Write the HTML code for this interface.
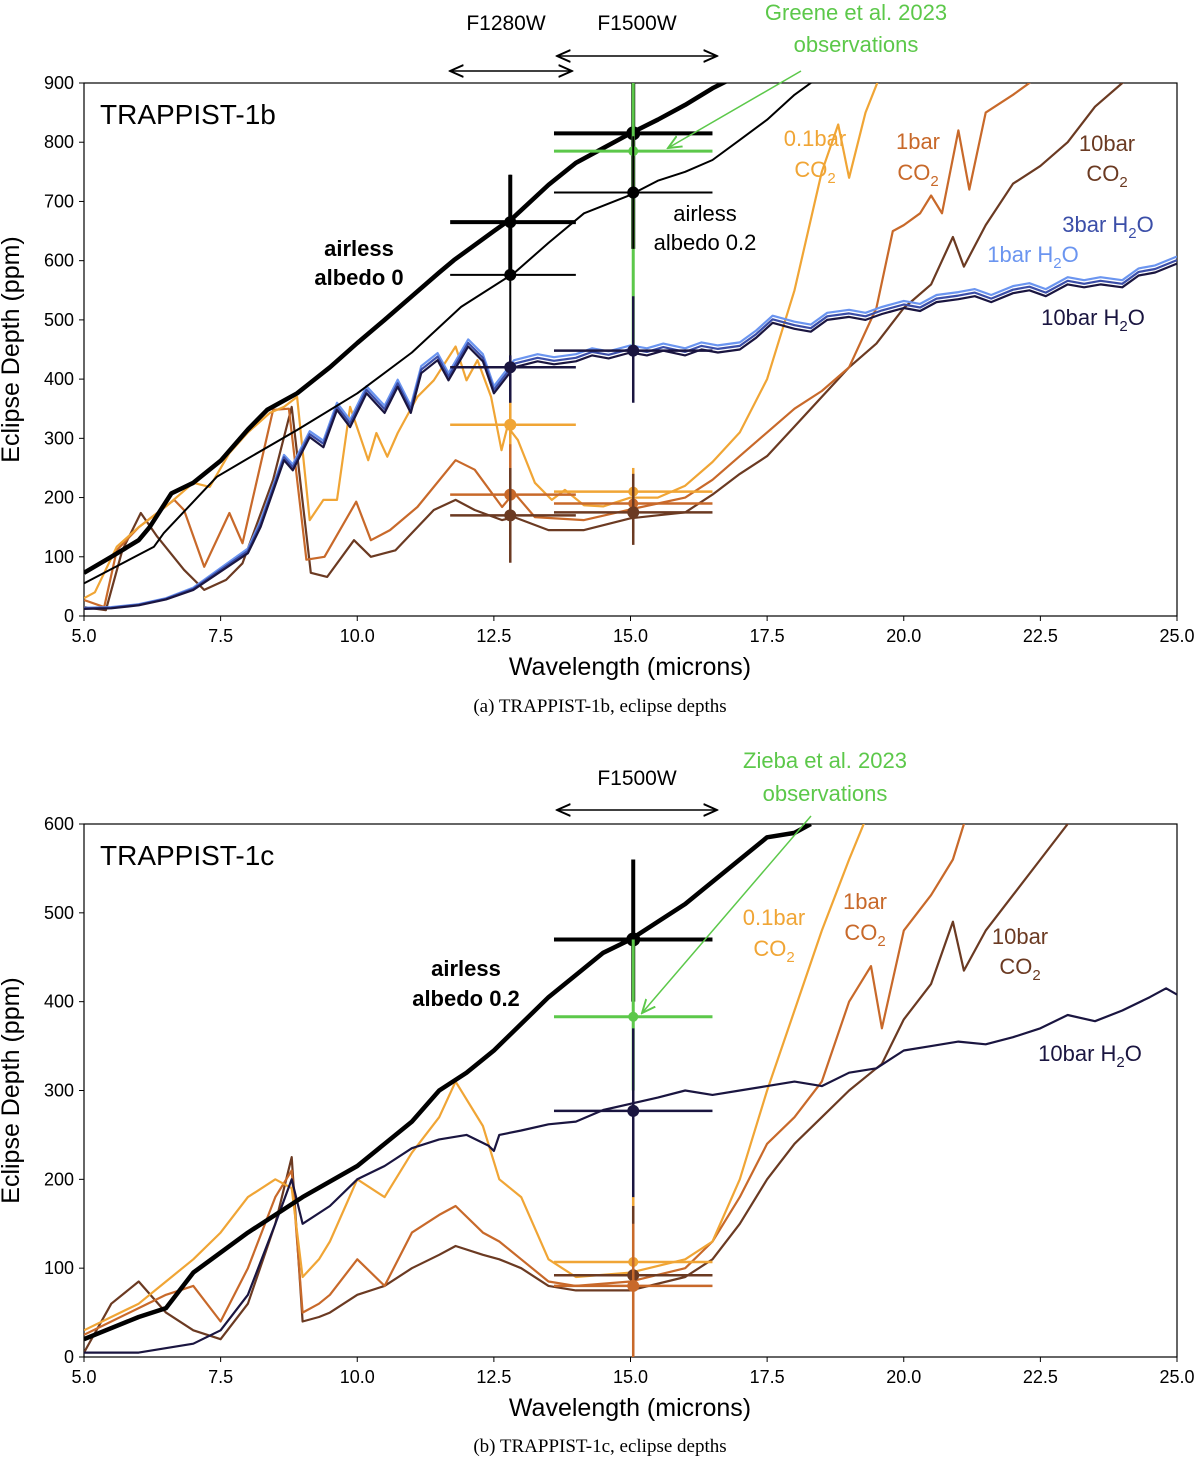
<!DOCTYPE html>
<html><head><meta charset="utf-8"><style>
body{margin:0;background:#fff;}
svg text{font-family:"Liberation Sans",sans-serif;}
</style></head><body>
<svg id="fig" width="1200" height="1458" viewBox="0 0 1200 1458" xmlns="http://www.w3.org/2000/svg">
<defs>
<clipPath id="clipA"><rect x="84" y="83" width="1093" height="533"/></clipPath>
<clipPath id="clipB"><rect x="84" y="824" width="1093" height="533"/></clipPath>
<marker id="ah" markerWidth="10" markerHeight="10" refX="9" refY="5" orient="auto-start-reverse"><path d="M0,1 L9,5 L0,9" fill="none" stroke="#000" stroke-width="1.3"/></marker>
<marker id="ahg" markerWidth="10" markerHeight="10" refX="9" refY="5" orient="auto"><path d="M0,1 L9,5 L0,9" fill="none" stroke="#5cc84a" stroke-width="1.3"/></marker>
</defs>
<g id="panelA"></g>
<g id="panelB"></g>

<text x="506" y="30" font-size="21" text-anchor="middle">F1280W</text>
<line x1="450" y1="71" x2="572" y2="71" stroke="#000" stroke-width="1.5" marker-start="url(#ah)" marker-end="url(#ah)"/>
<text x="637" y="30" font-size="21" text-anchor="middle">F1500W</text>
<line x1="557" y1="56" x2="717" y2="56" stroke="#000" stroke-width="1.5" marker-start="url(#ah)" marker-end="url(#ah)"/>
<text x="856" y="20" font-size="22" fill="#5cc84a" text-anchor="middle">Greene et al. 2023</text>
<text x="856" y="52" font-size="22" fill="#5cc84a" text-anchor="middle">observations</text>
<line x1="801" y1="71" x2="668" y2="148" stroke="#5cc84a" stroke-width="1.5" marker-end="url(#ahg)"/>

<text x="637" y="785" font-size="21" text-anchor="middle">F1500W</text>
<line x1="557" y1="810" x2="717" y2="810" stroke="#000" stroke-width="1.5" marker-start="url(#ah)" marker-end="url(#ah)"/>
<text x="825" y="768" font-size="22" fill="#5cc84a" text-anchor="middle">Zieba et al. 2023</text>
<text x="825" y="801" font-size="22" fill="#5cc84a" text-anchor="middle">observations</text>
<line x1="811" y1="816" x2="642" y2="1013" stroke="#5cc84a" stroke-width="1.5" marker-end="url(#ahg)"/>

<text x="100" y="124" font-size="28">TRAPPIST-1b</text>
<text x="359" y="256" font-size="22" font-weight="bold" text-anchor="middle">airless</text>
<text x="359" y="285" font-size="22" font-weight="bold" text-anchor="middle">albedo 0</text>
<text x="705" y="221" font-size="22" text-anchor="middle">airless</text>
<text x="705" y="250" font-size="22" text-anchor="middle">albedo 0.2</text>
<text x="815" y="146" font-size="22" fill="#f0a535" text-anchor="middle">0.1bar</text>
<text x="815" y="177" font-size="22" fill="#f0a535" text-anchor="middle">CO<tspan font-size="15" dy="6">2</tspan></text>
<text x="918" y="149" font-size="22" fill="#c8692a" text-anchor="middle">1bar</text>
<text x="918" y="180" font-size="22" fill="#c8692a" text-anchor="middle">CO<tspan font-size="15" dy="6">2</tspan></text>
<text x="1107" y="151" font-size="22" fill="#6b3a22" text-anchor="middle">10bar</text>
<text x="1107" y="181" font-size="22" fill="#6b3a22" text-anchor="middle">CO<tspan font-size="15" dy="6">2</tspan></text>
<text x="1108" y="232" font-size="22" fill="#3b4ea8" text-anchor="middle">3bar H<tspan font-size="15" dy="6">2</tspan><tspan dy="-6">O</tspan></text>
<text x="1033" y="262" font-size="22" fill="#6b95f0" text-anchor="middle">1bar H<tspan font-size="15" dy="6">2</tspan><tspan dy="-6">O</tspan></text>
<text x="1093" y="325" font-size="22" fill="#1a1540" text-anchor="middle">10bar H<tspan font-size="15" dy="6">2</tspan><tspan dy="-6">O</tspan></text>

<text x="100" y="865" font-size="28">TRAPPIST-1c</text>
<text x="466" y="976" font-size="22" font-weight="bold" text-anchor="middle">airless</text>
<text x="466" y="1006" font-size="22" font-weight="bold" text-anchor="middle">albedo 0.2</text>
<text x="774" y="925" font-size="22" fill="#f0a535" text-anchor="middle">0.1bar</text>
<text x="774" y="956" font-size="22" fill="#f0a535" text-anchor="middle">CO<tspan font-size="15" dy="6">2</tspan></text>
<text x="865" y="909" font-size="22" fill="#c8692a" text-anchor="middle">1bar</text>
<text x="865" y="940" font-size="22" fill="#c8692a" text-anchor="middle">CO<tspan font-size="15" dy="6">2</tspan></text>
<text x="1020" y="944" font-size="22" fill="#6b3a22" text-anchor="middle">10bar</text>
<text x="1020" y="974" font-size="22" fill="#6b3a22" text-anchor="middle">CO<tspan font-size="15" dy="6">2</tspan></text>
<text x="1090" y="1061" font-size="22" fill="#1a1540" text-anchor="middle">10bar H<tspan font-size="15" dy="6">2</tspan><tspan dy="-6">O</tspan></text>

<text x="600" y="712" font-size="19" text-anchor="middle" style="font-family:'Liberation Serif',serif">(a) TRAPPIST-1b, eclipse depths</text>
<text x="600" y="1452" font-size="19" text-anchor="middle" style="font-family:'Liberation Serif',serif">(b) TRAPPIST-1c, eclipse depths</text>
</svg>
<script>
// ---------- Panel A data ----------
const xTicks = [5.0, 7.5, 10.0, 12.5, 15.0, 17.5, 20.0, 22.5, 25.0];
const yTicksA = [0, 100, 200, 300, 400, 500, 600, 700, 800, 900];
const yTicksB = [0, 100, 200, 300, 400, 500, 600];

const wlAirA = [5,5.5,6,6.2,6.6,7,7.5,8,8.35,8.9,9.5,10,10.5,11,11.5,11.77,12.5,12.87,13.5,14,14.5,15,15.5,16,16.5,16.8];
const airless0A = [73,100,128,150,207,225,262,315,348,376,420,461,500,540,580,601,650,674,728,765,790,815,838,863,891,905];
const wlAir02A = [5,6.28,6.46,7.43,8,8.9,10,11,11.9,12.87,13.5,14.15,15,15.5,16,16.5,17,17.5,18,18.3,18.6];
const airless02A = [55,117,140,235,266,314,376,445,522,579,630,680,711,735,750,770,804,838,880,900,920];

const wlH2O = [5,5.5,6,6.5,7,7.5,8,8.23,8.66,8.82,9.13,9.38,9.63,9.87,10.17,10.5,10.74,10.98,11.17,11.47,11.67,12.03,12.3,12.5,12.87,13.3,13.6,14,14.3,14.6,15,15.3,15.6,16,16.3,16.6,17,17.3,17.6,18,18.3,18.6,19,19.3,19.6,20,20.3,20.6,21,21.3,21.6,22,22.3,22.6,23,23.3,23.6,24,24.3,24.6,25];
const h2o10A = [12,13,18,28,44,75,106,150,263,246,302,285,348,319,376,343,387,343,410,432,398,455,430,376,420,430,425,430,440,435,445,440,448,440,450,445,450,470,495,485,480,500,505,500,510,520,515,530,535,540,530,545,550,540,560,555,560,555,575,580,595];
const h2o3A  = [13,14,19,29,46,78,110,155,268,251,307,291,354,325,382,349,393,349,416,438,404,461,436,382,426,436,431,436,446,441,451,446,454,446,456,451,456,476,501,491,486,506,511,506,516,526,521,536,541,546,536,551,556,546,566,561,566,561,581,586,601];
const h2o1A  = [14,15,20,30,48,81,114,160,272,256,312,296,360,331,388,355,399,355,422,444,410,467,442,388,432,442,437,442,452,447,457,452,460,452,462,457,462,482,507,497,492,512,517,512,522,532,527,542,547,552,542,557,562,552,572,567,572,567,587,592,607];

const wl01A = [5,5.2,5.6,6,6.5,7,7.3,7.66,8,8.4,8.66,8.9,9.13,9.38,9.63,9.87,10.2,10.35,10.55,10.74,11.1,11.4,11.8,12,12.2,12.45,12.64,12.75,12.94,13.25,13.56,13.8,14.15,14.5,15,15.5,16,16.5,17,17.5,18,18.5,18.8,19.0,19.3,19.6];
const co2_01A = [30,40,117,150,185,225,218,275,310,343,353,370,162,196,196,353,263,309,269,309,370,398,455,398,432,370,280,320,297,225,196,213,187,185,200,200,220,260,310,400,550,750,830,740,850,920];
const wl1A = [5,5.37,5.6,6,6.65,6.83,7.2,7.66,7.9,8.46,8.75,9.07,9.4,9.98,10.25,10.6,11.1,11.8,12.15,12.65,12.87,13.25,14.15,15,15.5,16,16.5,17,17.5,18,18.5,19,19.5,19.8,20,20.3,20.5,20.7,21,21.2,21.5,22,22.3,22.5,23];
const co2_1A = [27,15,111,150,196,179,83,174,123,348,350,95,100,193,128,145,184,263,247,184,208,167,162,180,190,200,230,270,310,350,380,420,520,650,660,680,710,680,820,720,850,880,900,950,1000];
const wl10A = [5,5.4,5.7,6.04,6.34,6.83,7.2,7.6,7.9,8.46,8.8,9.15,9.45,9.94,10.25,10.7,11.4,11.8,12.15,12.65,12.87,13.5,14.15,15,15.5,16,16.5,17,17.5,18,18.5,19,19.5,20,20.5,20.7,20.9,21.1,21.5,22,22.5,23,23.5,24,24.5];
const co2_10A = [15,10,111,174,134,78,44,61,89,230,353,73,66,128,100,111,179,196,179,162,167,145,145,165,170,175,205,240,270,320,370,420,460,520,560,600,640,590,660,730,760,800,860,900,950];

const ebX_A  = [12.8,12.8,12.8,12.8,12.8,12.8,15.05,15.05,15.05,15.05,15.05,15.05,15.05];
const ebY_A  = [665,576,420,323,205,170,815,785,715,448,210,190,175];
const ebXlo_A= [11.7,11.7,11.7,11.7,11.7,11.7,13.6,13.6,13.6,13.6,13.6,13.6,13.6];
const ebXhi_A= [14.0,14.0,14.0,14.0,14.0,14.0,16.5,16.5,16.5,16.5,16.5,16.5,16.5];
const ebYlo_A= [580,380,300,280,120,90,620,450,620,360,150,140,120];
const ebYhi_A= [745,745,440,360,290,250,900,900,810,540,250,240,240];

// ---------- Panel B data ----------
const wlAirB = [5,6,6.5,7,8,9,10,11,11.5,12,12.5,13,13.5,14,14.5,15,15.5,16,16.5,17,17.5,18,18.3];
const airless02B = [20,45,55,95,140,180,215,265,300,320,345,375,405,430,455,470,490,510,535,560,585,590,600];
const wlH2OB = [5,6,7,7.5,8,8.5,8.8,9,9.5,10,10.5,11,11.5,12,12.4,12.5,12.6,13,13.5,14,14.5,15,15.5,16,16.5,17,17.5,18,18.5,19,19.5,20,20.5,21,21.5,22,22.5,23,23.5,24,24.5,24.8,25];
const h2o10B = [5,5,15,30,70,150,200,150,170,200,215,235,245,250,238,232,250,255,262,265,278,285,292,300,295,300,305,310,305,320,325,345,350,355,352,360,370,385,378,390,405,415,408];
const wlCO2B = [5,5.5,6,6.5,7,7.5,8,8.5,8.8,9.0,9.3,9.5,10,10.5,11,11.5,11.8,12.3,12.6,13,13.5,14,15,16,16.5,17,17.5,18,18.5,19,19.4,19.6,20,20.5,20.9,21.1,21.5,22,22.5,23,23.5];
const co2_01B = [30,45,60,85,110,140,180,200,190,90,110,130,200,180,230,270,310,260,200,180,110,90,95,110,130,200,300,390,480,560,620,650,680,700,700,700,700,700,700,700,700];
const co2_1B = [25,40,55,70,80,40,100,180,210,50,60,70,110,80,140,160,170,140,130,110,85,80,85,100,130,180,240,270,310,400,440,370,480,520,560,600,640,680,700,700,700];
const co2_10B = [5,60,85,50,30,20,60,150,225,40,45,50,70,80,100,115,125,115,110,100,80,75,75,90,110,150,200,240,270,300,320,330,380,420,490,435,480,520,560,600,640];

const ebX_B  = [15.05,15.05,15.05,15.05,15.05,15.05];
const ebY_B  = [470,383,277,107,92,80];
const ebXlo_B= [13.6,13.6,13.6,13.6,13.6,13.6];
const ebXhi_B= [16.5,16.5,16.5,16.5,16.5,16.5];
const ebYlo_B= [400,300,150,50,0,0];
const ebYhi_B= [560,470,370,180,170,150];

// ---------- drawing ----------
const NS = "http://www.w3.org/2000/svg";
const X0=84, X1=1177;
function xs(v){ return X0 + (v-5)/20*(X1-X0); }
function mk(parent, tag, attrs){
  const e = document.createElementNS(NS, tag);
  for (const k in attrs) e.setAttribute(k, attrs[k]);
  parent.appendChild(e); return e;
}
function panel(g, top, bottom, ymax, yticks, clip, series, eb, pname){
  const ys = v => bottom - v/ymax*(bottom-top);
  const frame = mk(g,'rect',{x:X0,y:top,width:X1-X0,height:bottom-top,fill:'none',stroke:'#000','stroke-width':1.2});
  
  
  xTicks.forEach(t=>{
    const l = mk(g,'line',{x1:xs(t),x2:xs(t),y1:bottom,y2:bottom+5,stroke:'#000'});
    
    
    const tx = mk(g,'text',{x:xs(t),y:bottom+26,'font-size':18,'text-anchor':'middle'});
    tx.textContent = t.toFixed(1);
    
    
  });
  yticks.forEach(t=>{
    const l = mk(g,'line',{x1:X0-5,x2:X0,y1:ys(t),y2:ys(t),stroke:'#000'});
    
    
    const tx = mk(g,'text',{x:X0-10,y:ys(t)+6,'font-size':18,'text-anchor':'end'});
    tx.textContent = t;
    
    
  });
  const xt = mk(g,'text',{x:630,y:bottom+59,'font-size':25,'text-anchor':'middle'});
  xt.textContent = 'Wavelength (microns)';
  
  
  const yt = mk(g,'text',{x:0,y:0,'font-size':25,'text-anchor':'middle',transform:`translate(19,${(top+bottom)/2}) rotate(-90)`});
  yt.textContent = 'Eclipse Depth (ppm)';
  
  
  const cg = mk(g,'g',{'clip-path':`url(#${clip})`});
  
  
  series.forEach(s=>{
    const d = s.x.map((w,i)=>(i?'L':'M')+xs(w).toFixed(1)+','+ys(s.y[i]).toFixed(1)).join(' ');
    const p = mk(cg,'path',{d:d,fill:'none',stroke:s.c,'stroke-width':s.w,'stroke-linejoin':'round'});
    
    
  });
  eb.x.forEach((xv,i)=>{
    const c = eb.c[i], w = eb.w[i];
    const v = mk(cg,'line',{x1:xs(xv),x2:xs(xv),y1:ys(eb.ylo[i]),y2:ys(eb.yhi[i]),stroke:c,'stroke-width':w});
    
    
    const h = mk(cg,'line',{x1:xs(eb.xlo[i]),x2:xs(eb.xhi[i]),y1:ys(eb.y[i]),y2:ys(eb.y[i]),stroke:c,'stroke-width':w});
    
    
    const pt = mk(cg,'circle',{cx:xs(xv),cy:ys(eb.y[i]),r:eb.r[i],fill:c});
    
    
  });
}
const C = {h10:'#1a1540',h3:'#3b4ea8',h1:'#6b95f0',c01:'#f0a535',c1:'#c8692a',c10:'#6b3a22',g:'#5cc84a',k:'#000'};
panel(document.getElementById('panelA'), 83, 616, 900, yTicksA, 'clipA', [
  {x:wl10A,y:co2_10A,c:C.c10,w:2.2,n:'co2-10bar-line-a'},
  {x:wl1A,y:co2_1A,c:C.c1,w:2.2,n:'co2-1bar-line-a'},
  {x:wl01A,y:co2_01A,c:C.c01,w:2.2,n:'co2-01bar-line-a'},
  {x:wlH2O,y:h2o1A,c:C.h1,w:2.2,n:'h2o-1bar-line'},
  {x:wlH2O,y:h2o3A,c:C.h3,w:2.2,n:'h2o-3bar-line'},
  {x:wlH2O,y:h2o10A,c:C.h10,w:2.2,n:'h2o-10bar-line-a'},
  {x:wlAir02A,y:airless02A,c:C.k,w:2,n:'airless-albedo-02-line-a'},
  {x:wlAirA,y:airless0A,c:C.k,w:4.5,n:'airless-albedo-0-line'}
], {x:ebX_A,y:ebY_A,xlo:ebXlo_A,xhi:ebXhi_A,ylo:ebYlo_A,yhi:ebYhi_A,
    c:[C.k,C.k,C.h10,C.c01,C.c1,C.c10,C.k,C.g,C.k,C.h10,C.c01,C.c1,C.c10],
    w:[4,2,2.5,2.5,2.5,2.5,4,3,2,2.5,2.5,2.5,2.5],
    r:[6,6,6,6,6,6,7,5,6,6,5,5,6]}, 'panel-a');
panel(document.getElementById('panelB'), 824, 1357, 600, yTicksB, 'clipB', [
  {x:wlCO2B,y:co2_10B,c:C.c10,w:2.2,n:'co2-10bar-line-b'},
  {x:wlCO2B,y:co2_1B,c:C.c1,w:2.2,n:'co2-1bar-line-b'},
  {x:wlCO2B,y:co2_01B,c:C.c01,w:2.2,n:'co2-01bar-line-b'},
  {x:wlH2OB,y:h2o10B,c:C.h10,w:2.2,n:'h2o-10bar-line-b'},
  {x:wlAirB,y:airless02B,c:C.k,w:4.5,n:'airless-albedo-02-line-b'}
], {x:ebX_B,y:ebY_B,xlo:ebXlo_B,xhi:ebXhi_B,ylo:ebYlo_B,yhi:ebYhi_B,
    c:[C.k,C.g,C.h10,C.c01,C.c10,C.c1],
    w:[4,3,2.5,2.5,2.5,2.5],
    r:[7,5,6,5,6,6]}, 'panel-b');
</script>
</body></html>
